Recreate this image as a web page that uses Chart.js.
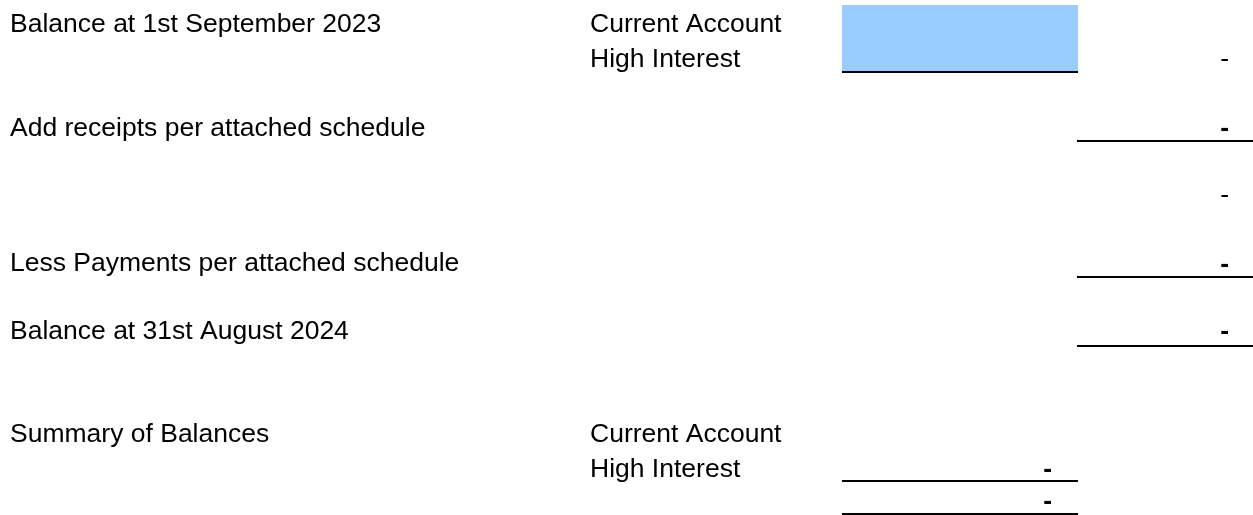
<!DOCTYPE html>
<html>
<head>
<meta charset="utf-8">
<script src="https://cdn.jsdelivr.net/npm/chart.js@4"></script>
<style>
  html, body { margin: 0; padding: 0; background: #fff; }
  #sheet { display: block; }
</style>
</head>
<body>
<canvas id="sheet" width="1253" height="515"></canvas>
<script>
// row labels (left column) and the row each sits on
const rowLabels = ['Balance at 1st September 2023', 'Add receipts per attached schedule',
    'Less Payments per attached schedule', 'Balance at 31st August 2024', 'Summary of Balances'];
const rowLabelY = [22, 126, 261, 329, 432];

// account names (middle column)
const accountLabels = ['Current Account', 'High Interest', 'Current Account', 'High Interest'];
const accountY = [22, 57, 432, 467];

// amounts in the right column, all zero -> shown as "-"
const totalValues = [0, 0, 0, 0, 0];
const totalY = [57, 126, 193, 262, 329];
const totalBold = [false, true, false, true, true];

// summary amounts
const summaryValues = [0, 0];
const summaryY = [467, 499];

// underlines: row y, from column edge, to column edge
const underlineY = [72, 141, 277, 346, 481, 514];
const underlineFrom = [842, 1077, 1077, 1077, 842, 842];
const underlineTo = [1078, 1253, 1253, 1253, 1078, 1078];

// shaded input cell
const inputCell = { x0: 842, x1: 1078, y0: 5, y1: 72 };

function fmt(v) {
    return v === 0 ? '-' : v.toLocaleString('en-GB', { minimumFractionDigits: 2 });
}

const datasets = [];

// fill first (higher order = drawn underneath)
datasets.push({
    data: [{ x: inputCell.x0, y: inputCell.y0 }, { x: inputCell.x1, y: inputCell.y0 }],
    borderWidth: 0,
    backgroundColor: '#99ccff',
    fill: '+1',
    pointRadius: 0,
    order: 10
});
datasets.push({
    data: [{ x: inputCell.x0, y: inputCell.y1 }, { x: inputCell.x1, y: inputCell.y1 }],
    borderWidth: 0,
    fill: false,
    pointRadius: 0,
    order: 10
});

underlineY.forEach((y, i) => {
    datasets.push({
        data: [{ x: underlineFrom[i], y: y }, { x: underlineTo[i], y: y }],
        borderColor: '#000',
        borderWidth: 2,
        fill: false,
        pointRadius: 0,
        order: 1
    });
});

const FONT = '26.5px "Liberation Sans", Arial, sans-serif';
const CAP_SHIFT = 9.5; // centre of capitals -> baseline

const textPlugin = {
    id: 'sheetText',
    afterDatasetsDraw(chart) {
        const c = chart.ctx;
        const xs = chart.scales.x;
        const ys = chart.scales.y;
        c.save();
        c.fillStyle = '#000';
        c.textBaseline = 'alphabetic';

        c.font = FONT;
        c.textAlign = 'left';
        rowLabels.forEach((t, i) => c.fillText(t, xs.getPixelForValue(10), ys.getPixelForValue(rowLabelY[i]) + CAP_SHIFT));
        accountLabels.forEach((t, i) => c.fillText(t, xs.getPixelForValue(590), ys.getPixelForValue(accountY[i]) + CAP_SHIFT));

        c.textAlign = 'right';
        totalValues.forEach((v, i) => {
            c.font = (totalBold[i] ? 'bold ' : '') + FONT;
            c.fillText(fmt(v), xs.getPixelForValue(1229), ys.getPixelForValue(totalY[i]) + CAP_SHIFT);
        });
        c.font = 'bold ' + FONT;
        summaryValues.forEach((v, i) => {
            c.fillText(fmt(v), xs.getPixelForValue(1052), ys.getPixelForValue(summaryY[i]) + CAP_SHIFT);
        });
        c.restore();
    }
};

new Chart(document.getElementById('sheet').getContext('2d'), {
    type: 'scatter',
    data: { datasets: datasets },
    options: {
        responsive: false,
        animation: false,
        showLine: true,
        layout: { padding: 0 },
        scales: {
            x: { type: 'linear', min: 0, max: 1253, display: false },
            y: { type: 'linear', min: 0, max: 515, reverse: true, display: false }
        },
        plugins: {
            legend: { display: false },
            tooltip: { enabled: false }
        }
    },
    plugins: [textPlugin]
});
</script>
</body>
</html>
